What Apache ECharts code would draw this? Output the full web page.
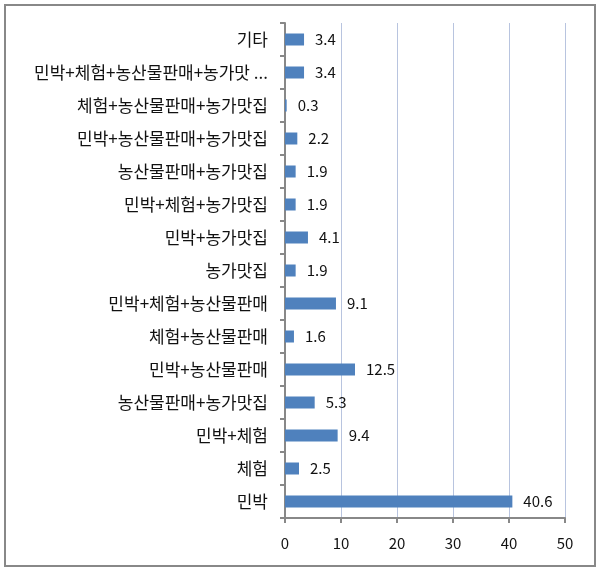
<!DOCTYPE html>
<html><head><meta charset="utf-8">
<script src="https://cdn.jsdelivr.net/npm/echarts@6/dist/echarts.min.js"></script>
<style>html,body{margin:0;padding:0;background:#fff;}#c{width:603px;height:575px;}</style>
</head><body><div id="c"></div>
<script>
const categories = ['민박','체험','민박+체험','농산물판매+농가맛집','민박+농산물판매','체험+농산물판매','민박+체험+농산물판매','농가맛집','민박+농가맛집','민박+체험+농가맛집','농산물판매+농가맛집','민박+농산물판매+농가맛집','체험+농산물판매+농가맛집','민박+체험+농산물판매+농가맛 ...','기타'];
const values = [40.6, 2.5, 9.4, 5.3, 12.5, 1.6, 9.1, 1.9, 4.1, 1.9, 1.9, 2.2, 0.3, 3.4, 3.4];
const xTicks = {min: 0, max: 50, interval: 10};
const font = '"Noto Sans CJK KR", "Noto Sans", sans-serif';
const chart = echarts.init(document.getElementById('c'));
chart.setOption({
  animation: false,
  textStyle: {fontFamily: font},
  grid: {left: 285, right: 38, top: 23, bottom: 57, containLabel: false},
  graphic: [{type: 'rect', shape: {x: 5, y: 5, width: 590, height: 561}, style: {fill: 'none', stroke: '#888', lineWidth: 2}}],
  xAxis: {
    type: 'value', min: xTicks.min, max: xTicks.max, interval: xTicks.interval,
    axisLine: {show: true, lineStyle: {color: '#888', width: 2}},
    axisTick: {show: true, length: 5, lineStyle: {color: '#888', width: 2}},
    axisLabel: {color: '#111', fontSize: 15, margin: 18, fontFamily: font},
    splitLine: {show: true, lineStyle: {color: '#b8c4df', width: 1}}
  },
  yAxis: {
    type: 'category', data: categories,
    axisLine: {show: true, lineStyle: {color: '#888', width: 2}},
    axisTick: {show: true, length: 5, lineStyle: {color: '#888', width: 2}},
    axisLabel: {color: '#111', fontSize: 17, margin: 17, fontFamily: font},
    splitLine: {show: false}
  },
  series: [{
    type: 'bar', data: values, barWidth: 12,
    itemStyle: {color: '#4f81bd'},
    label: {show: true, position: 'right', distance: 11, color: '#111', fontSize: 15, fontFamily: font}
  }]
});
</script></body></html>
